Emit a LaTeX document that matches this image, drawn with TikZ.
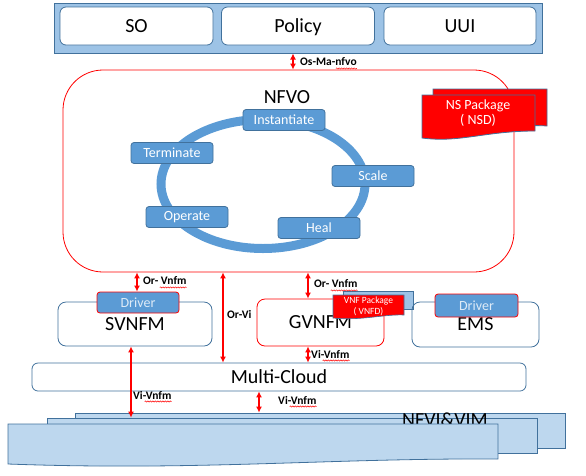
\documentclass[tikz,border=0pt]{standalone}
\usepackage{fontspec}
\setmainfont{Carlito}
\usepackage{xcolor}
\usetikzlibrary{arrows.meta}
\usetikzlibrary{decorations.pathmorphing}

\definecolor{bandblue}{HTML}{9DC3E6}
\definecolor{boxblue}{HTML}{5B9BD5}
\definecolor{edgeblue}{HTML}{41719C}
\definecolor{layerblue}{HTML}{BDD7EE}
\definecolor{drvtext}{HTML}{DEEBF7}

\newcommand{\bigtxt}{\fontsize{20}{22}\selectfont}
\newcommand{\midtxt}{\fontsize{14}{16}\selectfont}

\begin{document}
\begin{tikzpicture}[x=1pt, y=-1pt,
	menubox/.style={draw=edgeblue, fill=white, line width=0.8pt, rounded corners=6pt, minimum width=153pt, minimum height=38pt, font=\bigtxt, text depth=0pt},
	procbox/.style={draw=edgeblue, fill=boxblue, line width=0.8pt, rounded corners=3pt, minimum width=82pt, minimum height=21pt, inner sep=0pt, text=white, font=\midtxt},
	drvbox/.style={draw=red, fill=boxblue, line width=0.8pt, rounded corners=3pt, minimum width=82pt, minimum height=21pt, inner sep=0pt, text=drvtext, font=\midtxt},
	vnfmbox/.style={draw=edgeblue, line width=0.8pt, rounded corners=8pt, inner sep=0pt, font=\bigtxt},
	layer/.style={draw=edgeblue, fill=layerblue, line width=0.8pt},
	ifarrow/.style={red, line width=1.8pt, {Latex[length=6pt,width=6pt]}-{Latex[length=6pt,width=6pt]}},
	iflabel/.style={anchor=west, inner sep=0pt, font=\fontsize{11.5}{12}\selectfont\bfseries},
	squig/.style={red, line width=0.5pt, decorate, decoration={snake, amplitude=0.6pt, segment length=2.5pt}},
	pkgtxt/.style={text=white, align=center, inner sep=0pt}
	]
	\useasboundingbox (0,0) rectangle (586,475);
	
	\node[draw=edgeblue, fill=bandblue, line width=1pt, minimum width=488pt, minimum height=50pt] (band) at (298,28) {};
	\node[menubox] (so) at (136.5,26) {SO};
	\node[menubox] (policy) at (298,26) {Policy};
	\node[menubox, minimum width=152pt] (uui) at (460,26) {UUI};
	
	\node[draw=red, line width=0.8pt, rounded corners=40pt, minimum width=451pt, minimum height=202pt] (nfvo) at (288.5,171) {};
	\node[font=\bigtxt] (nfvotxt) at (287,97) {NFVO};
	
	\draw[boxblue, line width=9pt] (263,184) ellipse [x radius=102, y radius=64.5];
	\node[procbox] (inst) at (284,120) {Instantiate};
	\node[procbox] (term) at (172,153) {Terminate};
	\node[procbox] (scale) at (373,176) {Scale};
	\node[procbox] (oper) at (187,217) {Operate};
	\node[procbox] (heal) at (319,228) {Heal};
	
	\draw[draw=edgeblue, fill=red, line width=0.8pt] (433,89) -- (547,89) -- (547,126) .. controls (520,124) and (500,130) .. (433,128) -- cycle;
	\draw[draw=edgeblue, fill=red, line width=0.8pt] (422,95) -- (535,95) -- (535,131) .. controls (485,131) and (460,143) .. (422,138) -- cycle;
	\node[pkgtxt, font=\midtxt] (nsd) at (478,113.5) {NS Package\\[-1pt]( NSD)};
	
	\node[vnfmbox, minimum width=154pt, minimum height=44pt] (svnfm) at (135,324) {SVNFM};
	\node[drvbox] (drvs) at (138,302.5) {Driver};
	
	\node[vnfmbox, draw=red, minimum width=127pt, minimum height=47pt] (gvnfm) at (320.5,322.5) {GVNFM};
	\draw[draw=edgeblue, fill=bandblue, line width=0.8pt] (343,291) rectangle (413,309);
	\draw[draw=edgeblue, fill=red, line width=0.6pt] (333,295) -- (404,295) -- (404,315) .. controls (385,314) and (360,321) .. (333,318) -- cycle;
	\node[pkgtxt, font=\fontsize{9.5}{11}\selectfont] (vnfd) at (368.5,306) {VNF Package\\( VNFD)};
	
	\node[vnfmbox, minimum width=127pt, minimum height=45pt] (ems) at (475.5,324.5) {EMS};
	\node[drvbox, minimum width=83pt, minimum height=23pt] (drve) at (476.5,305.5) {Driver};
	
	\node[vnfmbox, rounded corners=6pt, minimum width=494pt, minimum height=28pt] (cloud) at (279,377) {Multi-Cloud};
	
	\node[layer, minimum width=490pt, minimum height=35pt] (vimback) at (320,430.5) {};
	\node[layer, minimum width=490pt, minimum height=35pt] (vimmid) at (292,435.5) {};
	\node[font=\bigtxt, anchor=base, inner sep=0pt] (vimtxt) at (445,426.5) {NFVI\&VIM};
	\draw[layer] (8,424) -- (498,424) -- (498,459) .. controls (330,458) and (200,471) .. (8,464) -- cycle;
	
	\coordinate (orvi) at (223,0);
	\draw[ifarrow] ([xshift=-5]band.south) -- ([xshift=-5]band.south |- nfvo.north);
	\draw[ifarrow] ([xshift=-1]drvs.north) -- ([xshift=-1]drvs.north |- nfvo.south);
	\draw[ifarrow] (orvi |- nfvo.south) -- (orvi |- cloud.north);
	\draw[ifarrow] ([xshift=-12.5]gvnfm.north) -- ([xshift=-12.5]gvnfm.north |- nfvo.south);
	\draw[ifarrow] ([xshift=-12.5]gvnfm.south) -- ([xshift=-12.5]gvnfm.south |- cloud.north);
	\draw[ifarrow] ([xshift=-4]svnfm.south) -- ([xshift=-4]svnfm.south |- vimmid.north);
	\draw[ifarrow] ([xshift=-20]cloud.south) -- ([xshift=-20]cloud.south |- vimback.north);
	
	\node[iflabel] (osma) at (300,62) {Os-Ma-nfvo};
	\node[iflabel] (orvnfms) at (143,281) {Or- Vnfm};
	\node[iflabel] (orvilbl) at (227,314) {Or-Vi};
	\node[iflabel] (orvnfmg) at (314,284) {Or- Vnfm};
	\node[iflabel] (vivnfmg) at (311,354) {Vi-Vnfm};
	\node[iflabel] (vivnfms) at (133,395) {Vi-Vnfm};
	\node[iflabel] (vivnfmc) at (278,400) {Vi-Vnfm};
	
	\draw[squig] ([xshift=-21,yshift=-2.5]osma.base east) -- ([yshift=-2.5]osma.base east);
	\foreach \lbl in {orvnfms,orvnfmg,vivnfmg,vivnfms,vivnfmc}
		\draw[squig] ([xshift=-27,yshift=-2.5]\lbl.base east) -- ([yshift=-2.5]\lbl.base east);
\end{tikzpicture}
\end{document}
